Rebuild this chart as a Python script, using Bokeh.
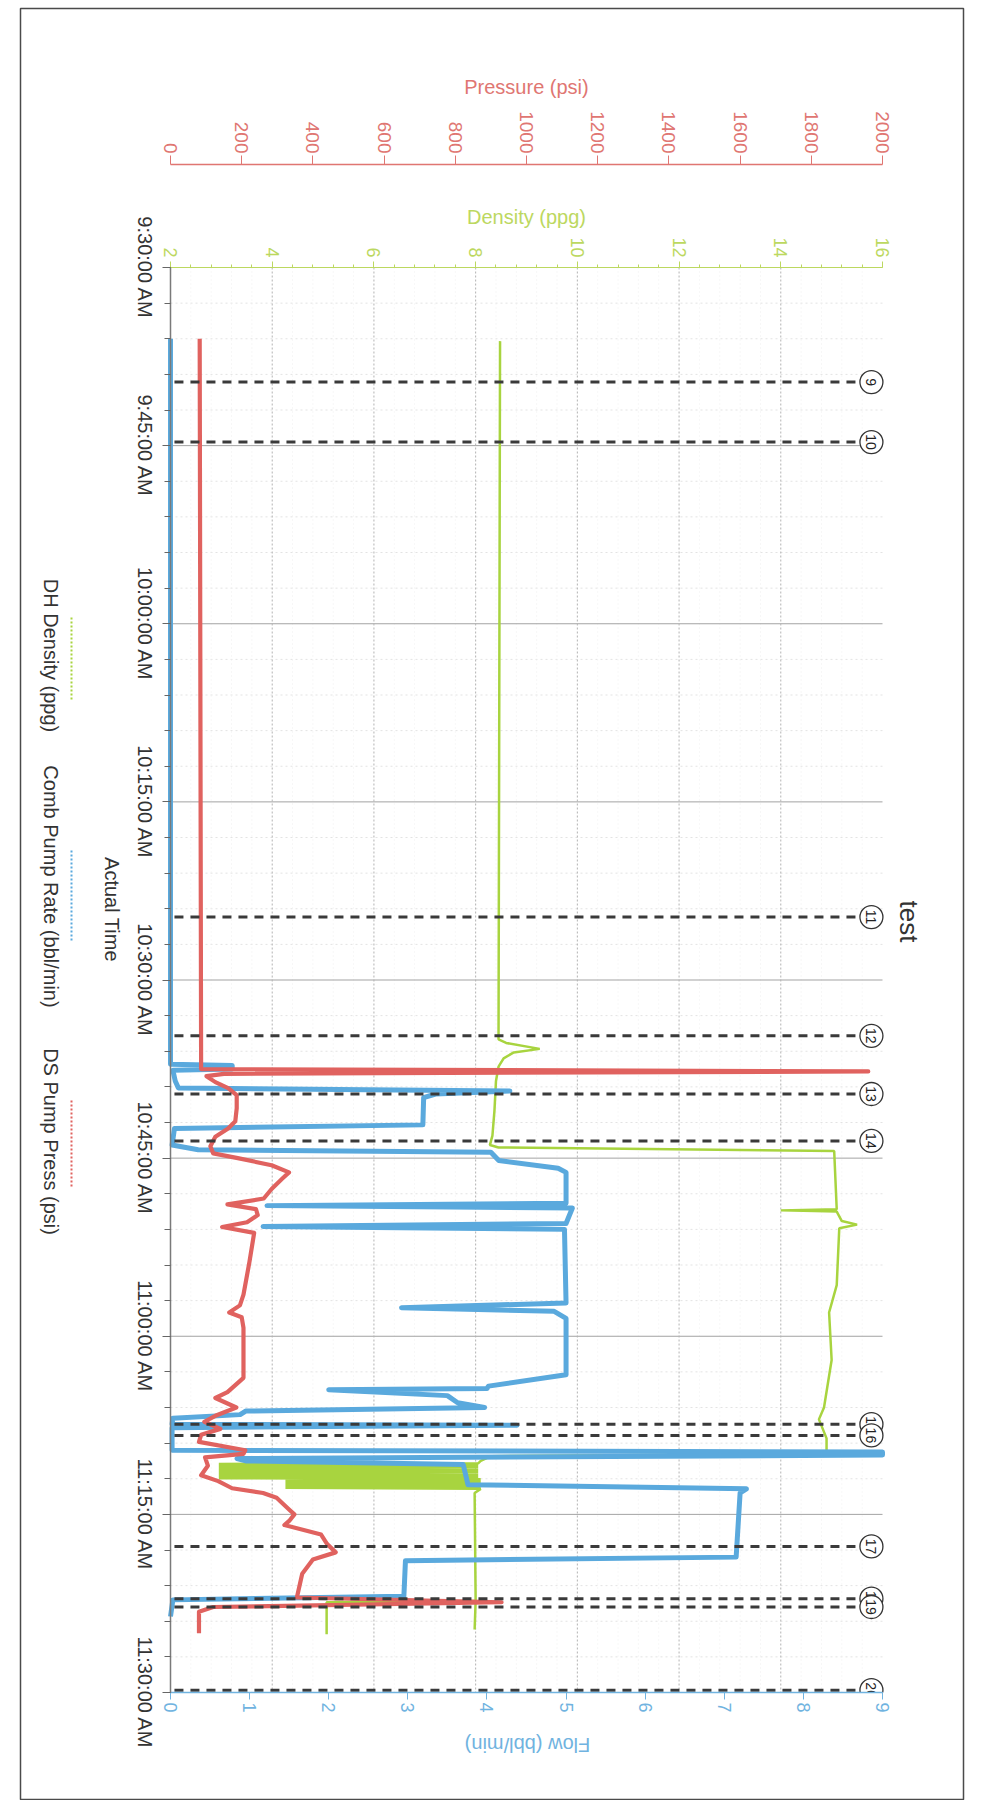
import math
from bokeh.plotting import figure
from bokeh.models import Range1d, LinearAxis, FixedTicker, ColumnDataSource, Grid
from bokeh.core.properties import value
from bokeh.embed import file_html
from bokeh.resources import INLINE

# ---------------- data ----------------
time_tick_values = ["9:30:00", "9:45:00", "10:00:00", "10:15:00", "10:30:00",
                    "10:45:00", "11:00:00", "11:15:00", "11:30:00"]
time_tick_labels = ["9:30:00 AM", "9:45:00 AM", "10:00:00 AM", "10:15:00 AM", "10:30:00 AM",
                    "10:45:00 AM", "11:00:00 AM", "11:15:00 AM", "11:30:00 AM"]
density_ticks = [2, 4, 6, 8, 10, 12, 14, 16]
pressure_ticks = [0, 200, 400, 600, 800, 1000, 1200, 1400, 1600, 1800, 2000]
flow_ticks = [0, 1, 2, 3, 4, 5, 6, 7, 8, 9]

press_time = ["9:36:00", "10:37:30", "10:37:42", "10:37:54", "10:38:06", "10:38:36", "10:39:06",
              "10:39:42", "10:40:48", "10:41:54", "10:42:30", "10:43:12", "10:44:00", "10:44:36",
              "10:45:00", "10:45:36", "10:46:12", "10:46:42", "10:47:36", "10:48:24", "10:48:54",
              "10:49:18", "10:49:48", "10:50:24", "10:50:48", "10:51:18", "10:53:42", "10:56:30",
              "10:57:24", "10:58:00", "10:58:24", "10:59:18", "11:03:30", "11:04:42", "11:05:12",
              "11:06:00", "11:06:42", "11:07:12", "11:07:48", "11:08:18", "11:08:54", "11:09:36",
              "11:09:54", "11:10:12", "11:10:54", "11:11:42", "11:12:12", "11:12:48", "11:13:12",
              "11:13:36", "11:14:30", "11:15:00", "11:15:30", "11:15:54", "11:16:42", "11:17:30",
              "11:18:12", "11:18:48", "11:20:00", "11:22:00", "11:22:24", "11:22:48", "11:23:12",
              "11:25:00"]
press_psi = [82, 86, 1960, 150, 101, 126, 162,
             186, 186, 182, 162, 126, 112, 120,
             189, 284, 333, 315, 284, 262, 160,
             240, 245, 215, 145, 235, 222, 205,
             195, 165, 200, 205, 205, 160, 126,
             185, 126, 95, 140, 86, 80, 210,
             205, 97, 105, 86, 134, 173, 260,
             298, 330, 348, 335, 320, 423, 440,
             464, 400, 370, 355, 930, 120, 80,
             80]

flow_time = ["9:36:00", "10:37:06", "10:37:12", "10:37:30", "10:37:36", "10:38:30", "10:39:06",
             "10:39:21", "10:39:36", "10:39:54", "10:42:12", "10:42:30", "10:43:54", "10:44:18",
             "10:44:30", "10:45:12", "10:45:51", "10:46:12", "10:48:48", "10:49:00", "10:49:12",
             "10:50:30", "10:50:45", "10:51:00", "10:57:12", "10:57:36", "10:57:54", "10:58:30",
             "11:03:15", "11:04:12", "11:04:24", "11:04:30", "11:05:00", "11:05:36", "11:06:00",
             "11:06:18", "11:06:36", "11:06:54", "11:07:24", "11:07:30", "11:07:42", "11:09:36",
             "11:09:45", "11:10:00", "11:10:18", "11:10:30", "11:10:48", "11:12:30", "11:12:51",
             "11:13:12", "11:18:36", "11:18:54", "11:21:54", "11:22:12", "11:23:36"]
flow_bpm = [0.0, 0.0, 0.78, 0.78, 0.03, 0.06, 0.10,
            4.29, 3.35, 3.20, 3.19, 0.05, 0.02, 0.35,
            4.05, 4.15, 4.90, 5.00, 5.00, 1.22, 5.08,
            5.00, 1.17, 4.98, 5.00, 2.92, 4.85, 5.00,
            5.00, 4.02, 4.00, 2.00, 3.50, 3.63, 3.97,
            0.95, 0.88, 0.03, 0.02, 4.38, 0.02, 0.02,
            9.00, 9.00, 0.84, 0.95, 3.70, 3.76, 7.28,
            7.20, 7.15, 2.97, 2.95, 0.03, 0.0]

dens_time = ["9:36:12", "10:35:00", "10:35:18", "10:35:48", "10:36:06", "10:36:36", "10:37:18",
             "10:38:30", "10:41:00", "10:43:06", "10:43:54", "10:44:06", "10:44:24", "10:49:18",
             "10:49:24", "10:49:30", "10:50:18", "10:50:36", "10:50:54", "10:55:42", "10:58:00",
             "11:02:00", "11:06:00", "11:07:00", "11:08:36", "11:09:54", "11:10:06", "11:10:30",
             "11:10:42", "11:10:45", "11:10:51", "11:10:57", "11:11:03", "11:11:09", "11:11:15",
             "11:11:21", "11:11:27", "11:11:33", "11:11:39", "11:11:45", "11:11:51", "11:11:57",
             "11:12:03", "11:12:09", "11:12:15", "11:12:21", "11:12:27", "11:12:33", "11:12:39",
             "11:12:45", "11:12:51", "11:13:12", "11:22:18", "11:24:42"]
dens_ppg = [8.48, 8.45, 8.60, 9.26, 8.75, 8.55, 8.45,
            8.40, 8.37, 8.33, 8.28, 8.45, 15.05, 15.10,
            14.00, 15.10, 15.20, 15.50, 15.15, 15.10, 14.95,
            15.00, 14.85, 14.75, 14.90, 14.90, 8.30, 8.10,
            8.05, 2.95, 8.05, 2.95, 8.05, 2.95, 8.05,
            2.95, 8.05, 2.95, 8.05, 2.95, 8.05, 2.95,
            8.10, 4.26, 8.10, 4.26, 8.10, 4.26, 8.10,
            4.26, 8.10, 7.98, 8.00, 7.98]
dens_tail_time = ["11:22:18", "11:22:24", "11:25:06"]
dens_tail_ppg = [8.00, 5.07, 5.07]

event_labels = ["9", "10", "11", "12", "13", "14", "15", "16", "17", "18", "19", "20"]
event_time = ["9:39:39", "9:44:42", "10:24:42", "10:34:42", "10:39:36", "10:43:33",
              "11:07:24", "11:08:21", "11:17:42", "11:22:06", "11:22:48", "11:29:48"]

legend_labels = ["DH Density (ppg)", "Comb Pump Rate (bbl/min)", "DS Pump Press (psi)"]


def mins(s):
    h, m, sec = s.split(":")
    return int(h) * 60 + int(m) + int(sec) / 60.0


# ---------------- layout (canvas pixels) ----------------
W, H = 965, 1800
CL, CR, CT, CB = 170, 882, 267, 1692      # chart area edges
PRESS_AXIS_Y = 164                          # pressure axis line
TIME_LABEL_X = 144
ACTUAL_TIME_XY = (111, 909)
LEG_TEXT_X, LEG_LINE_X = 50, 71
LEG_TEXT_Y = [655, 886, 1141]
LEG_LINE_Y = [(617, 700), (850, 940), (1100, 1187)]
TITLE_XY = (908, 921)
FLOW_TITLE_XY = (527, 1744)
FRAME_BOX = (20, 963, 8, 1799)              # left, right, top, bottom

FONT = "Liberation Sans"
RED = "#e0625f"
BLUE = "#5aa9dd"
GREEN = "#a8d43f"
RED_AX = "#e07672"
GREEN_AX = "#bcd860"
BLUE_AX = "#70b3e0"
TXT = "#333333"


def span(lo, hi, p0, p1, total):
    per = (p1 - p0) / (hi - lo)
    return lo - p0 / per, hi + (total - p1) / per


t0, t1 = mins("9:30:00"), mins("11:30:00")
xd0, xd1 = span(2, 16, CL, CR, W)
fl0, fl1 = span(0, 9, CL, CR, W)
pr0, pr1 = span(0, 2000, CL, CR, W)
ty0, ty1 = span(t0, t1, CT, CB, H)


def dx(sx):
    return xd0 + sx * (xd1 - xd0) / W


def fx(sx):
    return fl0 + sx * (fl1 - fl0) / W


def ty(sy):
    return ty0 + sy * (ty1 - ty0) / H


p = figure(width=W, height=H, output_backend="svg", toolbar_location=None,
           x_range=Range1d(xd0, xd1), y_range=Range1d(start=ty1, end=ty0),
           x_axis_location=None, y_axis_location=None,
           min_border=0, min_border_left=0, min_border_right=0,
           min_border_top=0, min_border_bottom=0,
           background_fill_color="white", border_fill_color="white", outline_line_color=None)
p.extra_x_ranges = {"flow": Range1d(fl0, fl1), "pressure": Range1d(pr0, pr1)}

for r in list(p.center):
    if isinstance(r, Grid):
        r.visible = False

tick_vals = [mins(s) for s in time_tick_values]
minor_vals = [t0 + 3 * i for i in range(41)]
dens_minor = [2 + 0.4 * i for i in range(36)]

# outer page frame
p.quad(left=[dx(FRAME_BOX[0])], right=[dx(FRAME_BOX[1])], top=[ty(FRAME_BOX[2])],
       bottom=[ty(FRAME_BOX[3])], fill_color=None, line_color="#4a4a4a", line_width=1.5)

# ---------------- grid (limited to the chart area) ----------------
hmin = [v for v in minor_vals if v not in tick_vals]
p.segment([2] * len(hmin), hmin, [16] * len(hmin), hmin, line_color="#e3e3e3",
          line_width=1, line_dash="2 3")
vmin = [v for v in dens_minor if abs(v - round(v / 2) * 2) > 1e-6]
p.segment(vmin, [t0] * len(vmin), vmin, [t1] * len(vmin), line_color="#efefef",
          line_width=1, line_dash="1 3")
hmaj = tick_vals[1:-1]
p.segment([2] * len(hmaj), hmaj, [16] * len(hmaj), hmaj, line_color="#a3a3a3", line_width=1)
vmaj = density_ticks[1:-1]
p.segment(vmaj, [t0] * len(vmaj), vmaj, [t1] * len(vmaj), line_color="#b3b3b3",
          line_width=1, line_dash="2 2")

# ---------------- axes ----------------
yaxis = LinearAxis(fixed_location=2, bounds=(t0, t1),
                   ticker=FixedTicker(ticks=tick_vals, minor_ticks=minor_vals),
                   major_label_overrides={v: "" for v in tick_vals},
                   axis_line_color="#7a7a7a", axis_line_width=1.5,
                   major_tick_line_color="#666666", major_tick_out=8, major_tick_in=0,
                   minor_tick_line_color="#666666", minor_tick_out=6, minor_tick_in=0)
p.add_layout(yaxis, "left")

dens_axis = LinearAxis(fixed_location=t0, bounds=(2, 16),
                       ticker=FixedTicker(ticks=density_ticks, minor_ticks=dens_minor),
                       axis_label="Density (ppg)",
                       axis_label_text_font=FONT, axis_label_text_font_size="20px",
                       axis_label_text_font_style="normal", axis_label_text_color=GREEN_AX,
                       axis_label_standoff=6,
                       major_label_orientation=-math.pi / 2,
                       major_label_text_font=FONT, major_label_text_font_size="18px",
                       major_label_text_color=GREEN_AX, major_label_standoff=4,
                       axis_line_color=GREEN_AX, major_tick_line_color=GREEN_AX,
                       minor_tick_line_color=GREEN_AX, major_tick_out=6, major_tick_in=0,
                       minor_tick_out=3, minor_tick_in=0)
p.add_layout(dens_axis, "above")

press_axis = LinearAxis(x_range_name="pressure", fixed_location=ty(PRESS_AXIS_Y),
                        bounds=(0, 2000), ticker=FixedTicker(ticks=pressure_ticks),
                        axis_label="Pressure (psi)",
                        axis_label_text_font=FONT, axis_label_text_font_size="20px",
                        axis_label_text_font_style="normal", axis_label_text_color=RED_AX,
                        axis_label_standoff=10,
                        major_label_orientation=-math.pi / 2,
                        major_label_text_font=FONT, major_label_text_font_size="19px",
                        major_label_text_color=RED_AX, major_label_standoff=2,
                        axis_line_color=RED_AX, axis_line_width=1.5,
                        major_tick_line_color=RED_AX, major_tick_out=9, major_tick_in=0,
                        minor_tick_line_color=None)
p.add_layout(press_axis, "above")

flow_axis = LinearAxis(x_range_name="flow", fixed_location=t1, bounds=(0, 9),
                       ticker=FixedTicker(ticks=flow_ticks),
                       major_label_orientation=-math.pi / 2,
                       major_label_text_font=FONT, major_label_text_font_size="18px",
                       major_label_text_color=BLUE_AX, major_label_standoff=3,
                       axis_line_color=BLUE_AX, axis_line_width=1.5,
                       major_tick_line_color=BLUE_AX, major_tick_out=7, major_tick_in=0,
                       minor_tick_line_color=None)
p.add_layout(flow_axis, "below")

# ---------------- series ----------------
dens_src = ColumnDataSource(dict(v=dens_ppg, t=[mins(s) for s in dens_time]))
dens_tail_src = ColumnDataSource(dict(v=dens_tail_ppg, t=[mins(s) for s in dens_tail_time]))
flow_src = ColumnDataSource(dict(v=flow_bpm, t=[mins(s) for s in flow_time]))
press_src = ColumnDataSource(dict(v=press_psi, t=[mins(s) for s in press_time]))

p.line("v", "t", source=dens_src, line_color=GREEN, line_width=2.5)
p.line("v", "t", source=dens_tail_src, line_color=GREEN, line_width=2.5)
p.line("v", "t", source=flow_src, x_range_name="flow", line_color=BLUE, line_width=5,
       line_join="round")
p.line("v", "t", source=press_src, x_range_name="pressure", line_color=RED, line_width=4.2,
       line_join="round")

# ---------------- event markers ----------------
ev_t = [mins(s) for s in event_time]
ev_src = ColumnDataSource(dict(x0=[0.05] * len(ev_t), x1=[8.68] * len(ev_t), y=ev_t))
p.segment("x0", "y", "x1", "y", source=ev_src, x_range_name="flow",
          line_color="#3a3a3a", line_width=3, line_dash="9 7")
for lab, tv in zip(event_labels, ev_t):
    s = ColumnDataSource(dict(x=[8.86], y=[tv], lab=[lab]))
    p.scatter("x", "y", source=s, x_range_name="flow", marker="circle", size=23,
              fill_color="white", line_color="#333333", line_width=1.3)
    p.text("x", "y", text="lab", source=s, x_range_name="flow", angle=-math.pi / 2,
           text_align="center", text_baseline="middle", text_font=value(FONT),
           text_font_size="14px", text_color="#222222")

# the chart area clips the marks at its lower edge
p.quad(left=[8.3], right=[9.6], top=[t1], bottom=[ty(CB + 16)], x_range_name="flow",
       fill_color="white", line_color=None)

# ---------------- texts: time labels, titles, legend ----------------
p.text(x=[dx(TIME_LABEL_X)] * len(tick_vals), y=tick_vals, text=time_tick_labels,
       angle=-math.pi / 2, text_align="center", text_baseline="middle",
       text_font=value(FONT), text_font_size="20px", text_color=TXT)
p.text(x=[dx(ACTUAL_TIME_XY[0])], y=[ty(ACTUAL_TIME_XY[1])], text=["Actual Time"],
       angle=-math.pi / 2, text_align="center", text_baseline="middle",
       text_font=value(FONT), text_font_size="20px", text_color=TXT)
p.text(x=[dx(TITLE_XY[0])], y=[ty(TITLE_XY[1])], text=["test"],
       angle=-math.pi / 2, text_align="center", text_baseline="middle",
       text_font=value(FONT), text_font_size="26px", text_color=TXT)
p.text(x=[fx(FLOW_TITLE_XY[0])], y=[ty(FLOW_TITLE_XY[1])], text=["Flow (bbl/min)"],
       x_range_name="flow", angle=math.pi, text_align="center", text_baseline="middle",
       text_font=value(FONT), text_font_size="20px", text_color=BLUE_AX)

p.text(x=[dx(LEG_TEXT_X)] * 3, y=[ty(v) for v in LEG_TEXT_Y], text=legend_labels,
       angle=-math.pi / 2, text_align="center", text_baseline="middle",
       text_font=value(FONT), text_font_size="20px", text_color=TXT)
for (a, b), col in zip(LEG_LINE_Y, [GREEN, BLUE, RED]):
    p.segment(x0=[dx(LEG_LINE_X)], y0=[ty(a)], x1=[dx(LEG_LINE_X)], y1=[ty(b)],
              line_color=col, line_width=2, line_dash="2 2")

open("out.html", "w").write(file_html(p, INLINE))
